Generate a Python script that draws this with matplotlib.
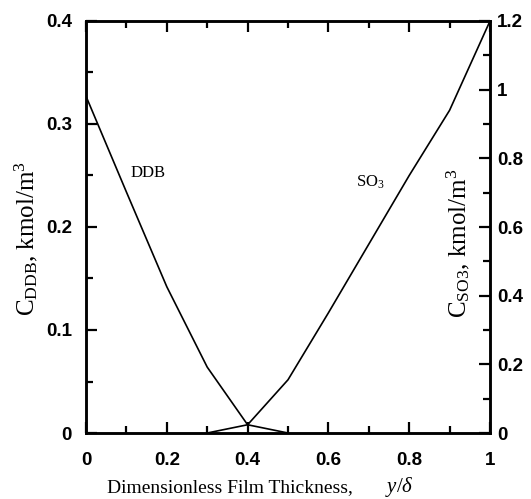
import numpy as np
import matplotlib
matplotlib.use('Agg')
import matplotlib.pyplot as plt
from matplotlib.ticker import MultipleLocator

plt.rcParams['mathtext.fontset'] = 'custom'
plt.rcParams['mathtext.rm'] = 'Liberation Serif'
plt.rcParams['mathtext.it'] = 'Liberation Serif:italic'
plt.rcParams['mathtext.bf'] = 'Liberation Serif:bold'

# data
x_ddb = [0.0, 0.1, 0.2, 0.3, 0.4, 0.5]
c_ddb = [0.327, 0.234, 0.142, 0.064, 0.008, 0.0]

x_so3 = [0.3, 0.4, 0.5, 0.6, 0.7, 0.8, 0.9, 1.0]
c_so3 = [0.0, 0.024, 0.155, 0.35, 0.55, 0.75, 0.94, 1.2]

x_ticks = [0, 0.2, 0.4, 0.6, 0.8, 1.0]
x_ticklabels = ['0', '0.2', '0.4', '0.6', '0.8', '1']
ddb_ticks = [0, 0.1, 0.2, 0.3, 0.4]
ddb_ticklabels = ['0', '0.1', '0.2', '0.3', '0.4']
so3_ticks = [0, 0.2, 0.4, 0.6, 0.8, 1.0, 1.2]
so3_ticklabels = ['0', '0.2', '0.4', '0.6', '0.8', '1', '1.2']

W, H = 531, 499
fig = plt.figure(figsize=(W/100, H/100), dpi=100)
ax = fig.add_axes([86/W, (H-433)/H, 404/W, 412/H])
ax2 = ax.twinx()

def px(x, y):
    # pixel position (from top-left) -> figure fraction
    return x/W, 1 - y/H

ax.plot(x_ddb, c_ddb, color='black', lw=1.2)
ax2.plot(x_so3, c_so3, color='black', lw=1.2)

ax.set_xlim(0, 1)
ax.set_ylim(0, 0.4)
ax2.set_ylim(0, 1.2)

tickfont = dict(family='Liberation Sans', weight='bold', size=13.5)

ax.xaxis.set_minor_locator(MultipleLocator(0.1))
ax.yaxis.set_minor_locator(MultipleLocator(0.05))
ax2.yaxis.set_minor_locator(MultipleLocator(0.1))

ax.set_xticks(x_ticks)
ax.set_xticklabels(x_ticklabels, fontdict=tickfont)
ax.set_yticks(ddb_ticks)
ax.set_yticklabels(ddb_ticklabels, fontdict=tickfont)
ax2.set_yticks(so3_ticks)
ax2.set_yticklabels(so3_ticklabels, fontdict=tickfont)

ax.tick_params(which='both', direction='in', top=True, right=False, width=1.6)
ax.tick_params(which='major', length=8)
ax.tick_params(which='minor', length=5)
ax.tick_params(axis='x', pad=14)
ax.tick_params(axis='y', pad=10)
ax2.tick_params(which='both', direction='in', width=1.6)
ax2.tick_params(which='major', length=8, pad=5)
ax2.tick_params(which='minor', length=5)

for a in (ax, ax2):
    for s in a.spines.values():
        s.set_linewidth(1.8)

# axis titles
fig.text(*px(107, 492), 'Dimensionless Film Thickness,', family='Liberation Serif',
         size=14, ha='left', va='baseline')
fig.text(*px(385, 492), r'$y/\delta$', size=15, ha='left', va='baseline')
fig.text(*px(26, 238), r'C$_{\rm DDB}$, kmol/m$^3$', family='Liberation Serif',
         size=18, rotation=90, ha='center', va='center')
fig.text(*px(458, 243), r'C$_{\rm SO3}$, kmol/m$^3$', family='Liberation Serif',
         size=18, rotation=90, ha='center', va='center')

ax.text(0.153, 0.252, 'DDB', family='Liberation Serif', size=12,
        ha='center', va='center')
ax.text(0.703, 0.243, r'SO$_3$', family='Liberation Serif', size=12,
        ha='center', va='center')

fig.savefig('out.png', dpi=100)
